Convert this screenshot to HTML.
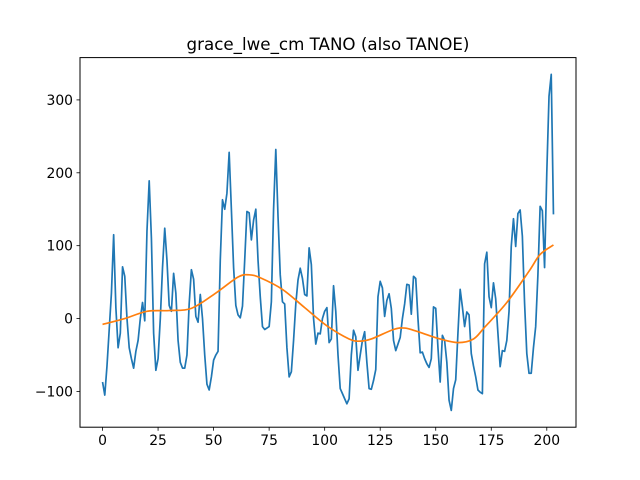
<!DOCTYPE html>
<html><head><meta charset="utf-8"><style>
html,body{margin:0;padding:0;background:#fff;}
svg{display:block;font-family:"DejaVu Sans","Liberation Sans",sans-serif;}
</style></head><body>
<svg id="chart" width="640" height="480" viewBox="0 0 640 480" xmlns="http://www.w3.org/2000/svg">
<rect width="640" height="480" fill="#fff"/>
<text x="328" y="50" font-size="16.7" text-anchor="middle">grace_lwe_cm TANO (also TANOE)</text>
<g id="plot"></g>
<rect x="80" y="57.6" width="496" height="369.6" fill="none" stroke="#000" stroke-width="1"/>
</svg>
<script>
const seriesTano = [-87,-105,-65,-15,35,115,15,-40,-20,71,58,0,-40,-55,-68,-45,-30,0,22,-3,
120,189,110,-20,-71,-55,0,70,124,80,18,10,62,35,-30,-60,-68,-68,-50,20,
67,54,3,-5,33,0,-50,-90,-98,-80,-57,-50,-45,80,163,150,172,228,150,70,18,
5,1,17,80,147,145,108,135,150,80,30,-11,-15,-13,-11,23,150,232,140,60,
23,20,-40,-80,-73,-30,20,53,69,55,33,31,97,74,0,-35,-20,-21,0,10,
15,-33,-28,45,10,-50,-96,-103,-110,-117,-110,-50,-16,-25,-71,-50,-30,-18,-60,-96,
-97,-85,-70,30,51,42,3,25,34,14,-30,-44,-35,-26,0,20,47,46,6,58,
55,0,-47,-46,-55,-62,-67,-55,16,14,-40,-87,-23,-30,-60,-112,-126,-96,-84,-20,40,
16,-11,9,5,-48,-65,-80,-98,-101,-103,75,91,30,15,49,27,-20,-66,-44,-45,
-30,10,99,137,99,144,149,113,21,-48,-75,-75,-40,-11,60,154,148,70,200,305,
335,143];
const smoothIdx = [0,10,20,30,40,51,61,66,71,81,91,101,111,116,121,131,136,141,152,160,167,172,182,192,197,203];
const smoothVals = [-8,0,10,11,14,35,57,60,56,40,15,-10,-28,-31,-28,-15,-13,-17,-28,-33,-28,-12,22,65,88,101];
const xTicks = [0,25,50,75,100,125,150,175,200];
const yTicks = [-100,0,100,200,300];

const L=80,R=576,T=57.6,B=427.2;
const n=seriesTano.length;
const xmin=-0.05*(n-1), xmax=(n-1)*1.05;
const allv=seriesTano.concat(smoothVals);
const vmin=Math.min(...allv), vmax=Math.max(...allv), pad=(vmax-vmin)*0.05;
const ymin=vmin-pad, ymax=vmax+pad;
const X=v=>L+(v-xmin)/(xmax-xmin)*(R-L);
const Y=v=>B-(v-ymin)/(ymax-ymin)*(B-T);
const NS="http://www.w3.org/2000/svg";
const g=document.getElementById('plot');
function mk(t,a){const e=document.createElementNS(NS,t);for(const k in a)e.setAttribute(k,a[k]);g.appendChild(e);return e;}

xTicks.forEach(t=>{
  const x=X(t);
  const ln=mk('line',{x1:x,x2:x,y1:B,y2:B+3.5,stroke:'#000','stroke-width':0.8});
  
  
  const tx=mk('text',{x:x,y:B+18,'font-size':13.9,'text-anchor':'middle'});
  tx.textContent=t;
  
  
});
yTicks.forEach(t=>{
  const y=Y(t);
  const ln=mk('line',{x1:L-3.5,x2:L,y1:y,y2:y,stroke:'#000','stroke-width':0.8});
  
  
  const tx=mk('text',{x:L-7,y:y+5,'font-size':13.9,'text-anchor':'end'});
  tx.textContent=t<0?'\u2212'+(-t):t;
  
  
});

let d='';
seriesTano.forEach((v,i)=>{d+=(i?'L':'M')+X(i).toFixed(2)+' '+Y(v).toFixed(2);});
const p1=mk('path',{d:d,fill:'none',stroke:'#1f77b4','stroke-width':1.7,'stroke-linejoin':'round'});



const pts=smoothIdx.map((x,i)=>[X(x),Y(smoothVals[i])]);
let d2='M'+pts[0][0]+' '+pts[0][1];
for(let i=0;i<pts.length-1;i++){
  const p0=pts[Math.max(0,i-1)],a=pts[i],b=pts[i+1],p3=pts[Math.min(pts.length-1,i+2)];
  const c1=[a[0]+(b[0]-p0[0])/6,a[1]+(b[1]-p0[1])/6];
  const c2=[b[0]-(p3[0]-a[0])/6,b[1]-(p3[1]-a[1])/6];
  d2+='C'+c1[0]+' '+c1[1]+' '+c2[0]+' '+c2[1]+' '+b[0]+' '+b[1];
}
const p2=mk('path',{d:d2,fill:'none',stroke:'#ff7f0e','stroke-width':1.7});


</script>
</body></html>
